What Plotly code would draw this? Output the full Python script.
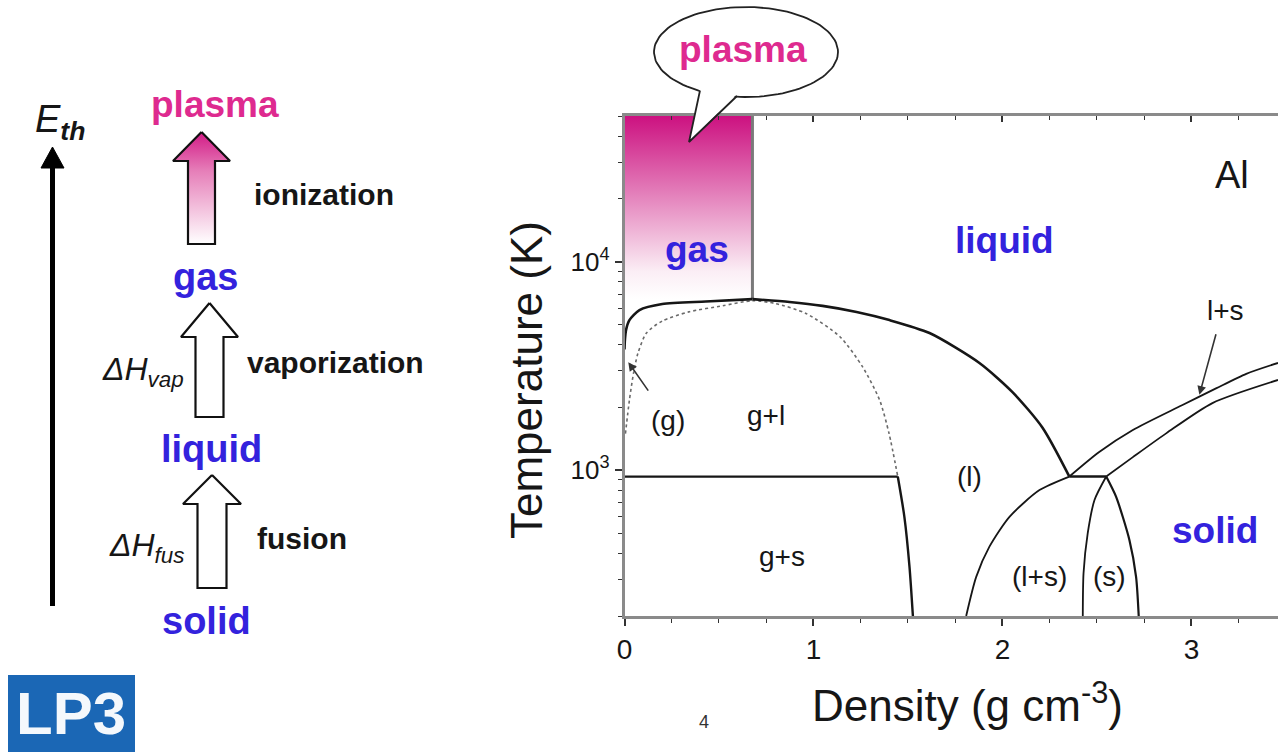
import numpy as np
import plotly.graph_objects as go

W, H = 1278, 752

# ---------------- Al phase diagram data (density g/cm^3, temperature K) ----------------
T_MIN, T_MAX = 200, 50000
RHO_MAX = 3.458
T_TRIPLE = 933
rho_crit, T_crit = 0.677, 6620

# binodal, gas branch
gas_bin_rho = [0.0, 0.002, 0.008, 0.026, 0.079, 0.20, 0.43, 0.677]
gas_bin_T = [3800, 4200, 4700, 5250, 5860, 6270, 6450, 6620]
# binodal, liquid branch
liq_bin_rho = [0.677, 0.873, 1.048, 1.228, 1.402, 1.614, 1.878, 2.053, 2.212, 2.354]
liq_bin_T = [6620, 6410, 6140, 5740, 5250, 4550, 3270, 2370, 1600, 933]
# spinodal
spin_rho = [0.005, 0.026, 0.048, 0.071, 0.115, 0.20, 0.34, 0.52, 0.677, 0.80, 0.96, 1.14, 1.26, 1.35, 1.40, 1.446]
spin_T = [1500, 2170, 2930, 3640, 4540, 5200, 5750, 6150, 6500, 6300, 5650, 4370, 3130, 2170, 1500, 933]
# gas + solid boundary below the triple line
gs_rho = [1.446, 1.481, 1.508, 1.526]
gs_T = [933, 598, 345, 200]
# triple lines
triple_gas_rho = [0.0, 1.446]
triple_ls_rho = [2.354, 2.549]
# metastable liquid / (l+s) boundary
ml_rho = [2.354, 2.196, 2.037, 1.931, 1.861, 1.808]
ml_T = [933, 803, 598, 430, 308, 200]
# (l+s) / (s) boundary
ms_rho = [2.549, 2.487, 2.451, 2.429, 2.425]
ms_T = [933, 720, 498, 321, 200]
# stable solid boundary
sol_rho = [2.549, 2.601, 2.672, 2.707, 2.721]
sol_T = [933, 747, 462, 308, 200]
# melting curves
liquidus_rho = [2.354, 2.51, 2.69, 2.95, 3.13, 3.29, 3.458]
liquidus_T = [933, 1220, 1560, 2050, 2470, 2900, 3270]
solidus_rho = [2.549, 2.69, 2.868, 3.111, 3.458]
solidus_T = [933, 1156, 1507, 2100, 2710]

# region labels: (text, density, temperature, kind)
region_labels = [
    ("gas", 0.381, 11400, "phase"),
    ("liquid", 2.011, 12600, "phase"),
    ("solid", 3.122, 517, "phase"),
    ("Al", 3.217, 26000, "element"),
    ("(g)", 0.228, 1740, "sub"),
    ("g+l", 0.751, 1840, "sub"),
    ("g+s", 0.836, 384, "sub"),
    ("(l)", 1.825, 929, "sub"),
    ("(l+s)", 2.196, 308, "sub"),
    ("(s)", 2.566, 308, "sub"),
    ("l+s", 3.18, 5860, "sub"),
]

FONT = "Liberation Sans, Arial, sans-serif"
BLUE = "#3322dd"
MAGENTA = "#de2a8f"
INK = "#161616"

fig = go.Figure()


def curve(rho, T, width=2.2, color=INK, dash="solid"):
    fig.add_trace(go.Scatter(
        x=rho, y=T, mode="lines",
        line=dict(color=color, width=width, dash=dash, shape="spline", smoothing=0.7),
        hoverinfo="skip", showlegend=False))


# gas column fading into the plasma regime
fig.add_trace(go.Scatter(
    x=[0, rho_crit, rho_crit, 0, 0], y=[T_crit, T_crit, T_MAX, T_MAX, T_crit],
    mode="lines", fill="toself", line=dict(width=0),
    fillgradient=dict(type="vertical", colorscale=[[0, "#ffffff"], [0.15, "#fbeef5"], [1, "#cc1180"]]),
    hoverinfo="skip", showlegend=False))
fig.add_trace(go.Scatter(
    x=[rho_crit, rho_crit], y=[T_crit, T_MAX], mode="lines",
    line=dict(color="#7a7a7a", width=3), hoverinfo="skip", showlegend=False))

curve(spin_rho, spin_T, width=1.6, color="#6a6a6a", dash="dot")
curve(gas_bin_rho, gas_bin_T, width=2.6)
curve(liq_bin_rho, liq_bin_T, width=2.6)
curve(gs_rho, gs_T, width=2.4)
curve(triple_gas_rho, [T_TRIPLE, T_TRIPLE], width=2.2)
curve(triple_ls_rho, [T_TRIPLE, T_TRIPLE], width=2.6)
curve(ml_rho, ml_T, width=1.8)
curve(ms_rho, ms_T, width=1.8)
curve(sol_rho, sol_T, width=2.2)
curve(liquidus_rho, liquidus_T, width=1.8)
curve(solidus_rho, solidus_T, width=1.8)

annotations = []
for text, rho, T, kind in region_labels:
    if kind == "phase":
        font = dict(family=FONT, size=37, color=BLUE)
        text = f"<b>{text}</b>"
    elif kind == "element":
        font = dict(family=FONT, size=38, color=INK)
    else:
        font = dict(family=FONT, size=28, color=INK)
    annotations.append(dict(x=rho, y=np.log10(T), xref="x", yref="y", text=text,
                            xanchor="center", yanchor="middle", showarrow=False, font=font))

# pointer arrows for the narrow (g) and l+s regions
annotations.append(dict(x=0.02, y=np.log10(3300), xref="x", yref="y", text="",
                        showarrow=True, ax=21, ay=30, arrowhead=2, arrowsize=1.1,
                        arrowwidth=1.6, arrowcolor="#333"))
annotations.append(dict(x=3.042, y=np.log10(2300), xref="x", yref="y", text="",
                        showarrow=True, ax=17, ay=-62, arrowhead=2, arrowsize=1.1,
                        arrowwidth=1.6, arrowcolor="#333"))


def px(x):
    return x / W


def py(y):
    return 1 - y / H


def note(text, x, y, size, color=INK, xanchor="center", **kw):
    annotations.append(dict(x=px(x), y=py(y), xref="paper", yref="paper", text=text,
                            xanchor=xanchor, yanchor="middle", showarrow=False,
                            font=dict(family=FONT, size=size, color=color), **kw))


# axis titles
note("Temperature (K)", 526, 380, 44, textangle=-90)
note("Density (g cm<sup>-3</sup>)", 967, 702, 44)

# ---------------- energy ladder on the left ----------------
def block_arrow(cx, tip, base, bottom, hw, sw):
    xs = [cx, cx + hw, cx + sw, cx + sw, cx - sw, cx - sw, cx - hw, cx]
    ys = [tip, base, base, bottom, bottom, base, base, tip]
    return xs, ys


ax_kw = dict(xaxis="x3", yaxis="y3", hoverinfo="skip", showlegend=False)

xs, ys = block_arrow(201.5, 132, 161, 244, 28.5, 13.5)
fig.add_trace(go.Scatter(x=xs, y=ys, mode="lines", fill="toself",
                         fillgradient=dict(type="vertical",
                                           colorscale=[[0, "#ffffff"], [0.65, "#e67fb9"], [1, "#d21a86"]]),
                         line=dict(color="#111", width=2.2), **ax_kw))
for cx, tip, base, bottom, hw, sw in [(209.5, 303, 337, 417, 28.5, 14), (212, 475, 504, 588, 29, 14.5)]:
    xs, ys = block_arrow(cx, tip, base, bottom, hw, sw)
    fig.add_trace(go.Scatter(x=xs, y=ys, mode="lines", fill="toself", fillcolor="white",
                             line=dict(color="#111", width=2.2), **ax_kw))

# thermal energy axis
fig.add_trace(go.Scatter(x=[52.5, 52.5], y=[606, 162], mode="lines",
                         line=dict(color="black", width=5), **ax_kw))
fig.add_trace(go.Scatter(x=[52.5, 64, 41, 52.5], y=[147, 168, 168, 147], mode="lines",
                         fill="toself", fillcolor="black", line=dict(color="black", width=1), **ax_kw))

# speech bubble over the gas column
t = np.linspace(0, 2 * np.pi, 120)
bx, by, rx, ry = 746, 52, 92, 45
fig.add_trace(go.Scatter(x=bx + rx * np.cos(t), y=by + ry * np.sin(t), mode="lines",
                         fill="toself", fillcolor="white", line=dict(color="#222", width=1.8), **ax_kw))
fig.add_trace(go.Scatter(x=[700, 689, 737, 737, 700], y=[89, 142, 94, 88, 84], mode="lines",
                         fill="toself", fillcolor="white", line=dict(width=0), **ax_kw))
fig.add_trace(go.Scatter(x=[700, 689, 737], y=[90.5, 142, 96], mode="lines",
                         line=dict(color="#222", width=1.8), **ax_kw))

note("<b>plasma</b>", 215, 104, 37, MAGENTA)
note("<b>gas</b>", 205, 277, 38, BLUE)
note("<b>liquid</b>", 211, 449, 38, BLUE)
note("<b>solid</b>", 206, 621, 38, BLUE)
note("<b>ionization</b>", 252, 195, 30, xanchor="left")
note("<b>vaporization</b>", 245, 362, 30, xanchor="left")
note("<b>fusion</b>", 255, 538, 30, xanchor="left")
note("<b>plasma</b>", 743, 50, 37, MAGENTA)
note("<i>E</i><sub><b><i>th</i></b></sub>", 33, 122, 38, xanchor="left")
note("<i>ΔH</i><sub><i>vap</i></sub>", 186, 371, 32, xanchor="right")
note("<i>ΔH</i><sub><i>fus</i></sub>", 186, 547, 32, xanchor="right")
note("4", 704, 722, 18, "#333")
note("<b>LP3</b>", 71, 713, 60, "#f4f8fc")

shapes = [dict(type="rect", xref="paper", yref="paper", x0=px(8), x1=px(135), y0=0, y1=py(675),
               fillcolor="#1b67b5", line=dict(width=0), layer="below")]

axis_line = dict(showline=True, linecolor="#8a8a8a", linewidth=2.5, showgrid=False,
                 zeroline=False, automargin=False)

fig.update_layout(
    template="none",
    width=W, height=H, margin=dict(l=0, r=0, t=0, b=0, pad=0), autosize=False,
    paper_bgcolor="white", plot_bgcolor="rgba(0,0,0,0)", showlegend=False,
    xaxis=dict(domain=[px(624.5), 1.0], range=[0, RHO_MAX], tickvals=[0, 1, 2, 3],
               ticks="outside", ticklen=7, tickwidth=1.5, tickcolor="#333",
               minor=dict(dtick=0.25, ticks="outside", ticklen=4, tickwidth=1.3, tickcolor="#333"),
               tickfont=dict(family=FONT, size=28, color=INK), ticklabelstandoff=0,
               **axis_line),
    xaxis2=dict(overlaying="x", side="top", matches="x", anchor="y", range=[0, RHO_MAX],
                tickvals=[0, 1, 2, 3], ticks="inside", ticklen=6, tickwidth=1.5, tickcolor="#333",
                minor=dict(dtick=0.25, ticks="inside", ticklen=4, tickwidth=1.3, tickcolor="#333"),
                showticklabels=False, **axis_line),
    yaxis=dict(domain=[py(616), py(116)], type="log", range=[np.log10(T_MIN), np.log10(T_MAX)],
               tickvals=[1000, 10000], ticktext=["10<sup>3</sup>", "10<sup>4</sup>"],
               ticks="outside", ticklen=7, tickwidth=1.5, tickcolor="#333",
               minor=dict(dtick="D1", ticks="outside", ticklen=4, tickwidth=1.3, tickcolor="#333"),
               tickfont=dict(family=FONT, size=26, color=INK), **axis_line),
    xaxis3=dict(domain=[0, 1], range=[0, W], visible=False, anchor="y3", fixedrange=True,
                automargin=False),
    yaxis3=dict(domain=[0, 1], range=[H, 0], visible=False, anchor="x3", fixedrange=True,
                automargin=False),
    annotations=annotations, shapes=shapes,
)

# invisible marker so the top axis is drawn
fig.add_trace(go.Scatter(x=[0], y=[T_MIN], xaxis="x2", yaxis="y", mode="markers",
                         marker=dict(opacity=0), hoverinfo="skip", showlegend=False))

fig.write_html("out.html")
